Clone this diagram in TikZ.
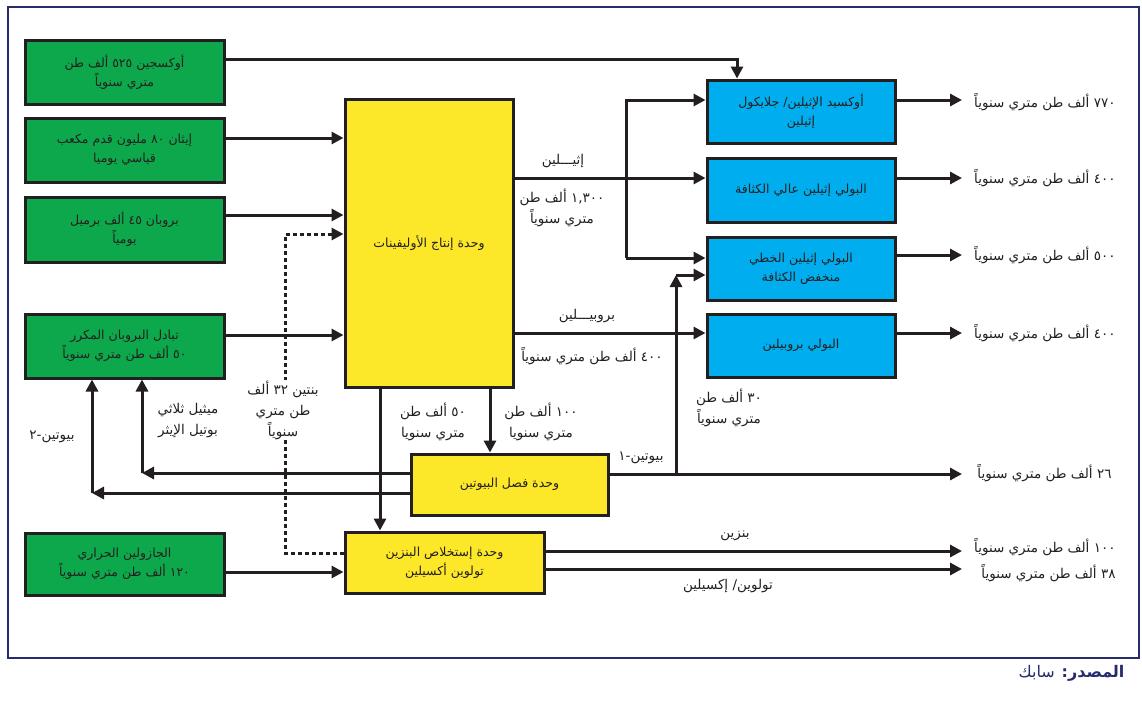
\documentclass[tikz,border=0pt]{standalone}
\usepackage{fontspec}
\setmainfont{DejaVu Sans}
\newfontfamily\arfont[Script=Arabic]{DejaVu Sans}
\TeXXeTstate=1
\usetikzlibrary{arrows.meta}
\definecolor{ink}{HTML}{231F20}
\definecolor{navy}{HTML}{262B6B}
\definecolor{gfill}{HTML}{0DA84B}
\definecolor{yfill}{HTML}{FCE828}
\definecolor{bfill}{HTML}{00AEEF}
\newcommand{\ArT}[1]{\beginR #1\endR}
\begin{document}
\begin{tikzpicture}[x=1pt,y=-1pt,
  every node/.style={font=\arfont\fontsize{13.5}{21}\selectfont, text=ink},
  box/.style={draw=ink, line width=3pt, align=center, inner sep=0pt, font=\arfont\fontsize{12.5}{19}\selectfont},
  gbox/.style={box, fill=gfill, minimum width=199pt},
  ybox/.style={box, fill=yfill},
  bbox/.style={box, fill=bfill, minimum width=188pt, minimum height=63pt},
  flow/.style={draw=ink, line width=3pt},
  arr/.style={flow, -{Triangle[length=12pt,width=12pt]}},
  dotline/.style={flow, dash pattern=on 4pt off 3pt},
  lbl/.style={align=center, inner sep=1pt},
]
\useasboundingbox (0,0) rectangle (1142,715);
\draw[navy, line width=2pt] (8,7) rectangle (1139,658);

% green input boxes
\node[gbox, minimum height=64pt] (g1) at (124.5,72) {\ArT{أوكسجين ٥٢٥ ألف طن}\\\ArT{متري سنوياً}};
\node[gbox, minimum height=64pt] (g2) at (124.5,150) {\ArT{إيثان ٨٠ مليون قدم مكعب}\\\ArT{قياسي يوميا}};
\node[gbox, minimum height=65pt] (g3) at (124.5,229.5) {\ArT{بروبان ٤٥ ألف برميل}\\\ArT{يومياً}};
\node[gbox, minimum height=64pt] (g4) at (124.5,346) {\ArT{تبادل البروبان المكرر}\\\ArT{٥٠ ألف طن متري سنوياً}};
\node[gbox, minimum height=62pt] (g5) at (124.5,564) {\ArT{الجازولين الحراري}\\\ArT{١٢٠ ألف طن متري سنوياً}};

% yellow units
\node[ybox, minimum width=168pt, minimum height=288pt] (Y1) at (429,243) {\ArT{وحدة إنتاج الأوليفينات}};
\node[ybox, minimum width=197pt, minimum height=61pt] (Y2) at (509.5,484.5) {\ArT{وحدة فصل البيوتين}};
\node[ybox, minimum width=199pt, minimum height=61pt] (Y3) at (444.5,562.5) {\ArT{وحدة إستخلاص البنزين}\\\ArT{تولوين أكسيلين}};

% blue product units
\node[bbox] (B1) at (801,111.5) {\ArT{أوكسيد الإثيلين/ جلايكول}\\\ArT{إثيلين}};
\node[bbox, minimum height=64pt] (B2) at (801,190) {\ArT{البولي إثيلين عالي الكثافة}};
\node[bbox] (B3) at (801,268.5) {\ArT{البولي إثيلين الخطي}\\\ArT{منخفض الكثافة}};
\node[bbox] (B4) at (801,345.5) {\ArT{البولي بروبيلين}};

% feeds
\draw[arr] ([yshift=13pt]g1.east) -| ([xshift=-64pt]B1.north);
\coordinate (a2) at ([yshift=12pt]g2.east);
\draw[arr] (a2) -- (a2 -| Y1.west);
\coordinate (a3) at ([yshift=14.5pt]g3.east);
\draw[arr] (a3) -- (a3 -| Y1.west);
\coordinate (a4) at ([yshift=11pt]g4.east);
\draw[arr] (a4) -- (a4 -| Y1.west);
\coordinate (a5) at ([yshift=-8pt]g5.east);
\draw[arr] (a5) -- (a5 -| Y3.west);

% pentene recycle (dotted)
\coordinate (d0) at ([yshift=9.5pt]Y3.west);
\coordinate (dk) at (285,234);
\draw[dotline, -{Triangle[length=12pt,width=12pt]}] (d0) -| (dk) -- (dk -| Y1.west);
\node[lbl, fill=white] (pent) at (283,410) {\ArT{بنتين ٣٢ ألف}\\\ArT{طن متري}\\\ArT{سنوياً}};

% ethylene
\coordinate (e0) at ([yshift=65pt]Y1.east);
\draw[arr] (e0) -- (e0 -| B2.west);
\coordinate (jt) at (626,100);
\coordinate (jb) at (626,258);
\draw[arr] (jb) |- (jt -| B1.west);
\draw[arr] (jb) -- (jb -| B3.west);
\node[lbl] (eth) at (563,161) {\ArT{إثيـــلين}};
\node[lbl] (ethq) at (562,208) {\ArT{١,٣٠٠ ألف طن}\\\ArT{متري سنوياً}};

% propylene
\coordinate (p0) at ([yshift=-90pt]Y1.east);
\draw[arr] (p0) -- (p0 -| B4.west);
\node[lbl] (pro) at (587,316) {\ArT{بروبيـــلين}};
\node[lbl] (proq) at (592,356) {\ArT{٤٠٠ ألف طن متري سنوياً}};

% down flows
\coordinate (v1) at (490,0);
\draw[arr] (Y1.south -| v1) -- (Y2.north -| v1);
\coordinate (v2) at (380,0);
\draw[arr] (Y1.south -| v2) -- (Y3.north -| v2);
\node[lbl] (q100) at (541,422) {\ArT{١٠٠ ألف طن}\\\ArT{متري سنويا}};
\node[lbl] (q50) at (433,422) {\ArT{٥٠ ألف طن}\\\ArT{متري سنويا}};

% butene-1
\coordinate (ox) at (962,0);
\coordinate (b0) at ([yshift=10.5pt]Y2.east);
\draw[arr] (b0) -- (b0 -| ox);
\coordinate (r0) at (676,275);
\draw[arr] (b0 -| r0) -- (r0);
\draw[arr] (r0) -- (r0 -| B3.west);
\node[lbl] (bu1) at (641,458) {\ArT{بيوتين-١}};
\node[lbl] (q30) at (729,408) {\ArT{٣٠ ألف طن}\\\ArT{متري سنوياً}};

% MTBE and butene-2 back to propane exchange
\coordinate (m0) at ([yshift=11.5pt]Y2.west);
\coordinate (mc) at (142,473);
\draw[arr] (m0) -- (mc);
\draw[arr] (mc) -- (mc |- g4.south);
\coordinate (n0) at ([yshift=-8.5pt]Y2.west);
\coordinate (nc) at (92,493);
\draw[arr] (n0) -- (nc);
\draw[arr] (nc) -- (nc |- g4.south);
\node[lbl] (mtbe) at (188,421) {\ArT{ميثيل ثلاثي}\\\ArT{بوتيل الإيثر}};
\node[lbl] (bu2) at (52,437) {\ArT{بيوتين-٢}};

% aromatics
\coordinate (z1) at ([yshift=11.5pt]Y3.east);
\draw[arr] (z1) -- (z1 -| ox);
\coordinate (z2) at ([yshift=-6.5pt]Y3.east);
\draw[arr] (z2) -- (z2 -| ox);
\node[lbl] (bz) at (735,536) {\ArT{بنزين}};
\node[lbl] (tx) at (728,586) {\ArT{تولوين/ إكسيلين}};

% product outputs
\coordinate (o1) at ([yshift=11.5pt]B1.east);
\draw[arr] (o1) -- (o1 -| ox);
\coordinate (o2) at ([yshift=12pt]B2.east);
\draw[arr] (o2) -- (o2 -| ox);
\coordinate (o3) at ([yshift=13.5pt]B3.east);
\draw[arr] (o3) -- (o3 -| ox);
\coordinate (o4) at ([yshift=12.5pt]B4.east);
\draw[arr] (o4) -- (o4 -| ox);

\node[anchor=east] (t1) at (1119,102) {\ArT{٧٧٠ ألف طن متري سنوياً}};
\node[anchor=east] (t2) at (1119,178) {\ArT{٤٠٠ ألف طن متري سنوياً}};
\node[anchor=east] (t3) at (1119,255) {\ArT{٥٠٠ ألف طن متري سنوياً}};
\node[anchor=east] (t4) at (1119,333) {\ArT{٤٠٠ ألف طن متري سنوياً}};
\node[anchor=east] (t5) at (1115,473) {\ArT{٢٦ ألف طن متري سنوياً}};
\node[anchor=east] (t6) at (1119,547) {\ArT{١٠٠ ألف طن متري سنوياً}};
\node[anchor=east] (t7) at (1119,573) {\ArT{٣٨ ألف طن متري سنوياً}};

% source
\node[anchor=east, text=navy, font=\arfont\fontsize{16}{18}\selectfont] (src) at (1128,673) {\ArT{{\bfseries المصدر:} سابك}};
\end{tikzpicture}
\end{document}
